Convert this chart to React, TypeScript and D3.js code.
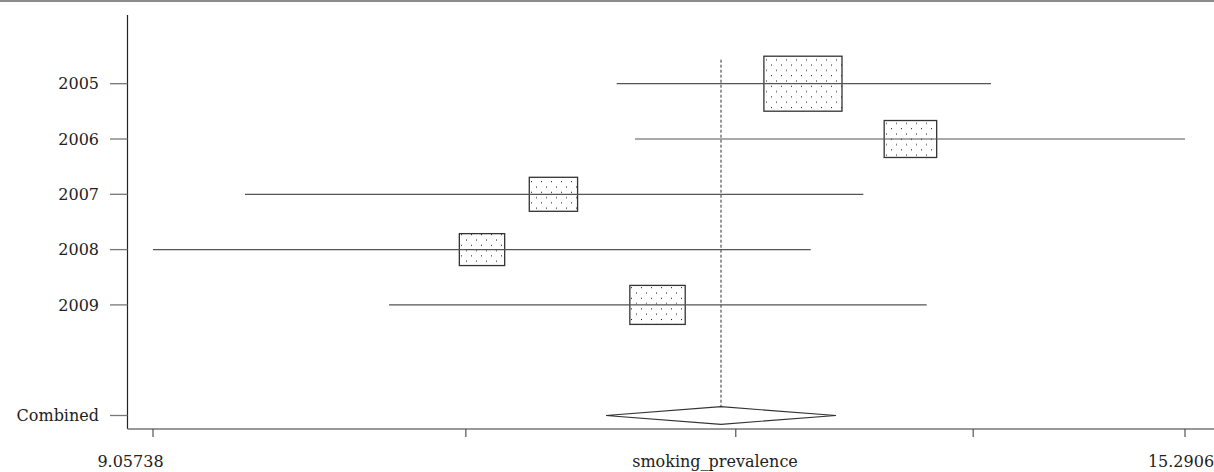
import React from "react";
import * as d3 from "d3";

// study rows (years), point estimates and 95% CI, weights (%)
const studies = ["2005", "2006", "2007", "2008", "2009"];
const estimates = [12.596, 13.302, 11.098, 10.703, 11.7];
const lower = [11.46, 11.567, 9.49, 9.05738, 10.21];
const upper = [13.857, 15.2906, 12.988, 12.646, 13.412];
const weights = [37.4, 16.9, 14.3, 12.6, 18.8];

const combinedLabel = "Combined";
const combined = { est: 12.083, lo: 11.398, hi: 12.809 };

const xDomain = [9.05738, 15.2906];
const xTickLabels = ["9.05738", "", "", "", "15.2906"];
const xTitle = "smoking_prevalence";

const W = 1214;
const H = 472;

const App = () => {
  const x = d3.scaleLog().domain(xDomain).range([153, 1185]);
  const step = (xDomain[1] - xDomain[0]) / 4;
  const xTicks = d3.range(5).map((i) => xDomain[0] + i * step);

  const y = d3
    .scalePoint<string>()
    .domain([...studies, "_gap", combinedLabel])
    .range([83.7, 415.5]);

  const boxH = d3
    .scaleSqrt()
    .domain([0, d3.max(weights) as number])
    .range([0, 55]);

  const axisX = 127.5;
  const axisY = 429;
  const font = "'DejaVu Serif', serif";
  const fs = 16;

  const cy = y(combinedLabel) as number;
  const diamondH = 17.6;
  const diamond = d3.line()([
    [x(combined.lo), cy],
    [x(combined.est), cy - diamondH / 2],
    [x(combined.hi), cy],
    [x(combined.est), cy + diamondH / 2],
  ]) + "Z";

  // label offsets relative to their ticks
  const labelDx = [-22.5, 0, 0, 0, -4];

  return (
    <svg
      width={W}
      height={H}
      style={{ position: "absolute", left: 0, top: 0, background: "#fff" }}
    >
      <defs>
        <pattern id="dots" patternUnits="userSpaceOnUse" width={10} height={10.6}>
          <rect x={1} y={1} width={1} height={1} fill="#111" />
          <rect x={6} y={6.3} width={1} height={1} fill="#111" />
        </pattern>
      </defs>

      {/* top frame line */}
      <line x1={0} x2={W} y1={1} y2={1} stroke="#666" strokeWidth={1.6} />

      {/* y axis */}
      <line x1={axisX} x2={axisX} y1={15} y2={axisY} stroke="#222" strokeWidth={1.2} />
      {[...studies, combinedLabel].map((s) => (
        <g key={s}>
          <line
            x1={110}
            x2={axisX}
            y1={y(s)}
            y2={y(s)}
            stroke="#777"
            strokeWidth={1.3}
          />
          <text
            x={99}
            y={y(s)}
            dy="0.35em"
            textAnchor="end"
            fontFamily={font}
            fontSize={fs}
            fill="#222"
          >
            {s}
          </text>
        </g>
      ))}

      {/* x axis */}
      <line x1={axisX} x2={W} y1={axisY} y2={axisY} stroke="#777" strokeWidth={1.6} />
      {xTicks.map((t, i) => (
        <g key={i}>
          <line
            x1={x(t)}
            x2={x(t)}
            y1={axisY}
            y2={axisY + 8}
            stroke="#444"
            strokeWidth={1.1}
          />
          {xTickLabels[i] && (
            <text
              x={x(t) + labelDx[i]}
              y={467}
              textAnchor="middle"
              fontFamily={font}
              fontSize={fs}
              fill="#222"
            >
              {xTickLabels[i]}
            </text>
          )}
        </g>
      ))}
      <text
        x={715}
        y={467}
        textAnchor="middle"
        fontFamily={font}
        fontSize={fs}
        fill="#222"
      >
        {xTitle}
      </text>

      {/* overall effect dashed line */}
      <line
        x1={x(combined.est)}
        x2={x(combined.est)}
        y1={(y(studies[0]) as number) - 24}
        y2={cy - diamondH / 2}
        stroke="#333"
        strokeWidth={1}
        strokeDasharray="3,2"
      />

      {/* study boxes and CIs */}
      {studies.map((s, i) => {
        const h = boxH(weights[i]);
        const w = h * 1.42;
        const cx = x(estimates[i]);
        const yy = y(s) as number;
        return (
          <g key={s}>
            <rect
              x={cx - w / 2}
              y={yy - h / 2}
              width={w}
              height={h}
              fill="url(#dots)"
              stroke="#333"
              strokeWidth={1.3}
            />
            <line
              x1={x(lower[i])}
              x2={x(upper[i])}
              y1={yy}
              y2={yy}
              stroke="#555"
              strokeWidth={1.2}
            />
          </g>
        );
      })}

      {/* combined diamond */}
      <path d={diamond} fill="#fff" stroke="#333" strokeWidth={1.2} />
    </svg>
  );
};

export default App;
